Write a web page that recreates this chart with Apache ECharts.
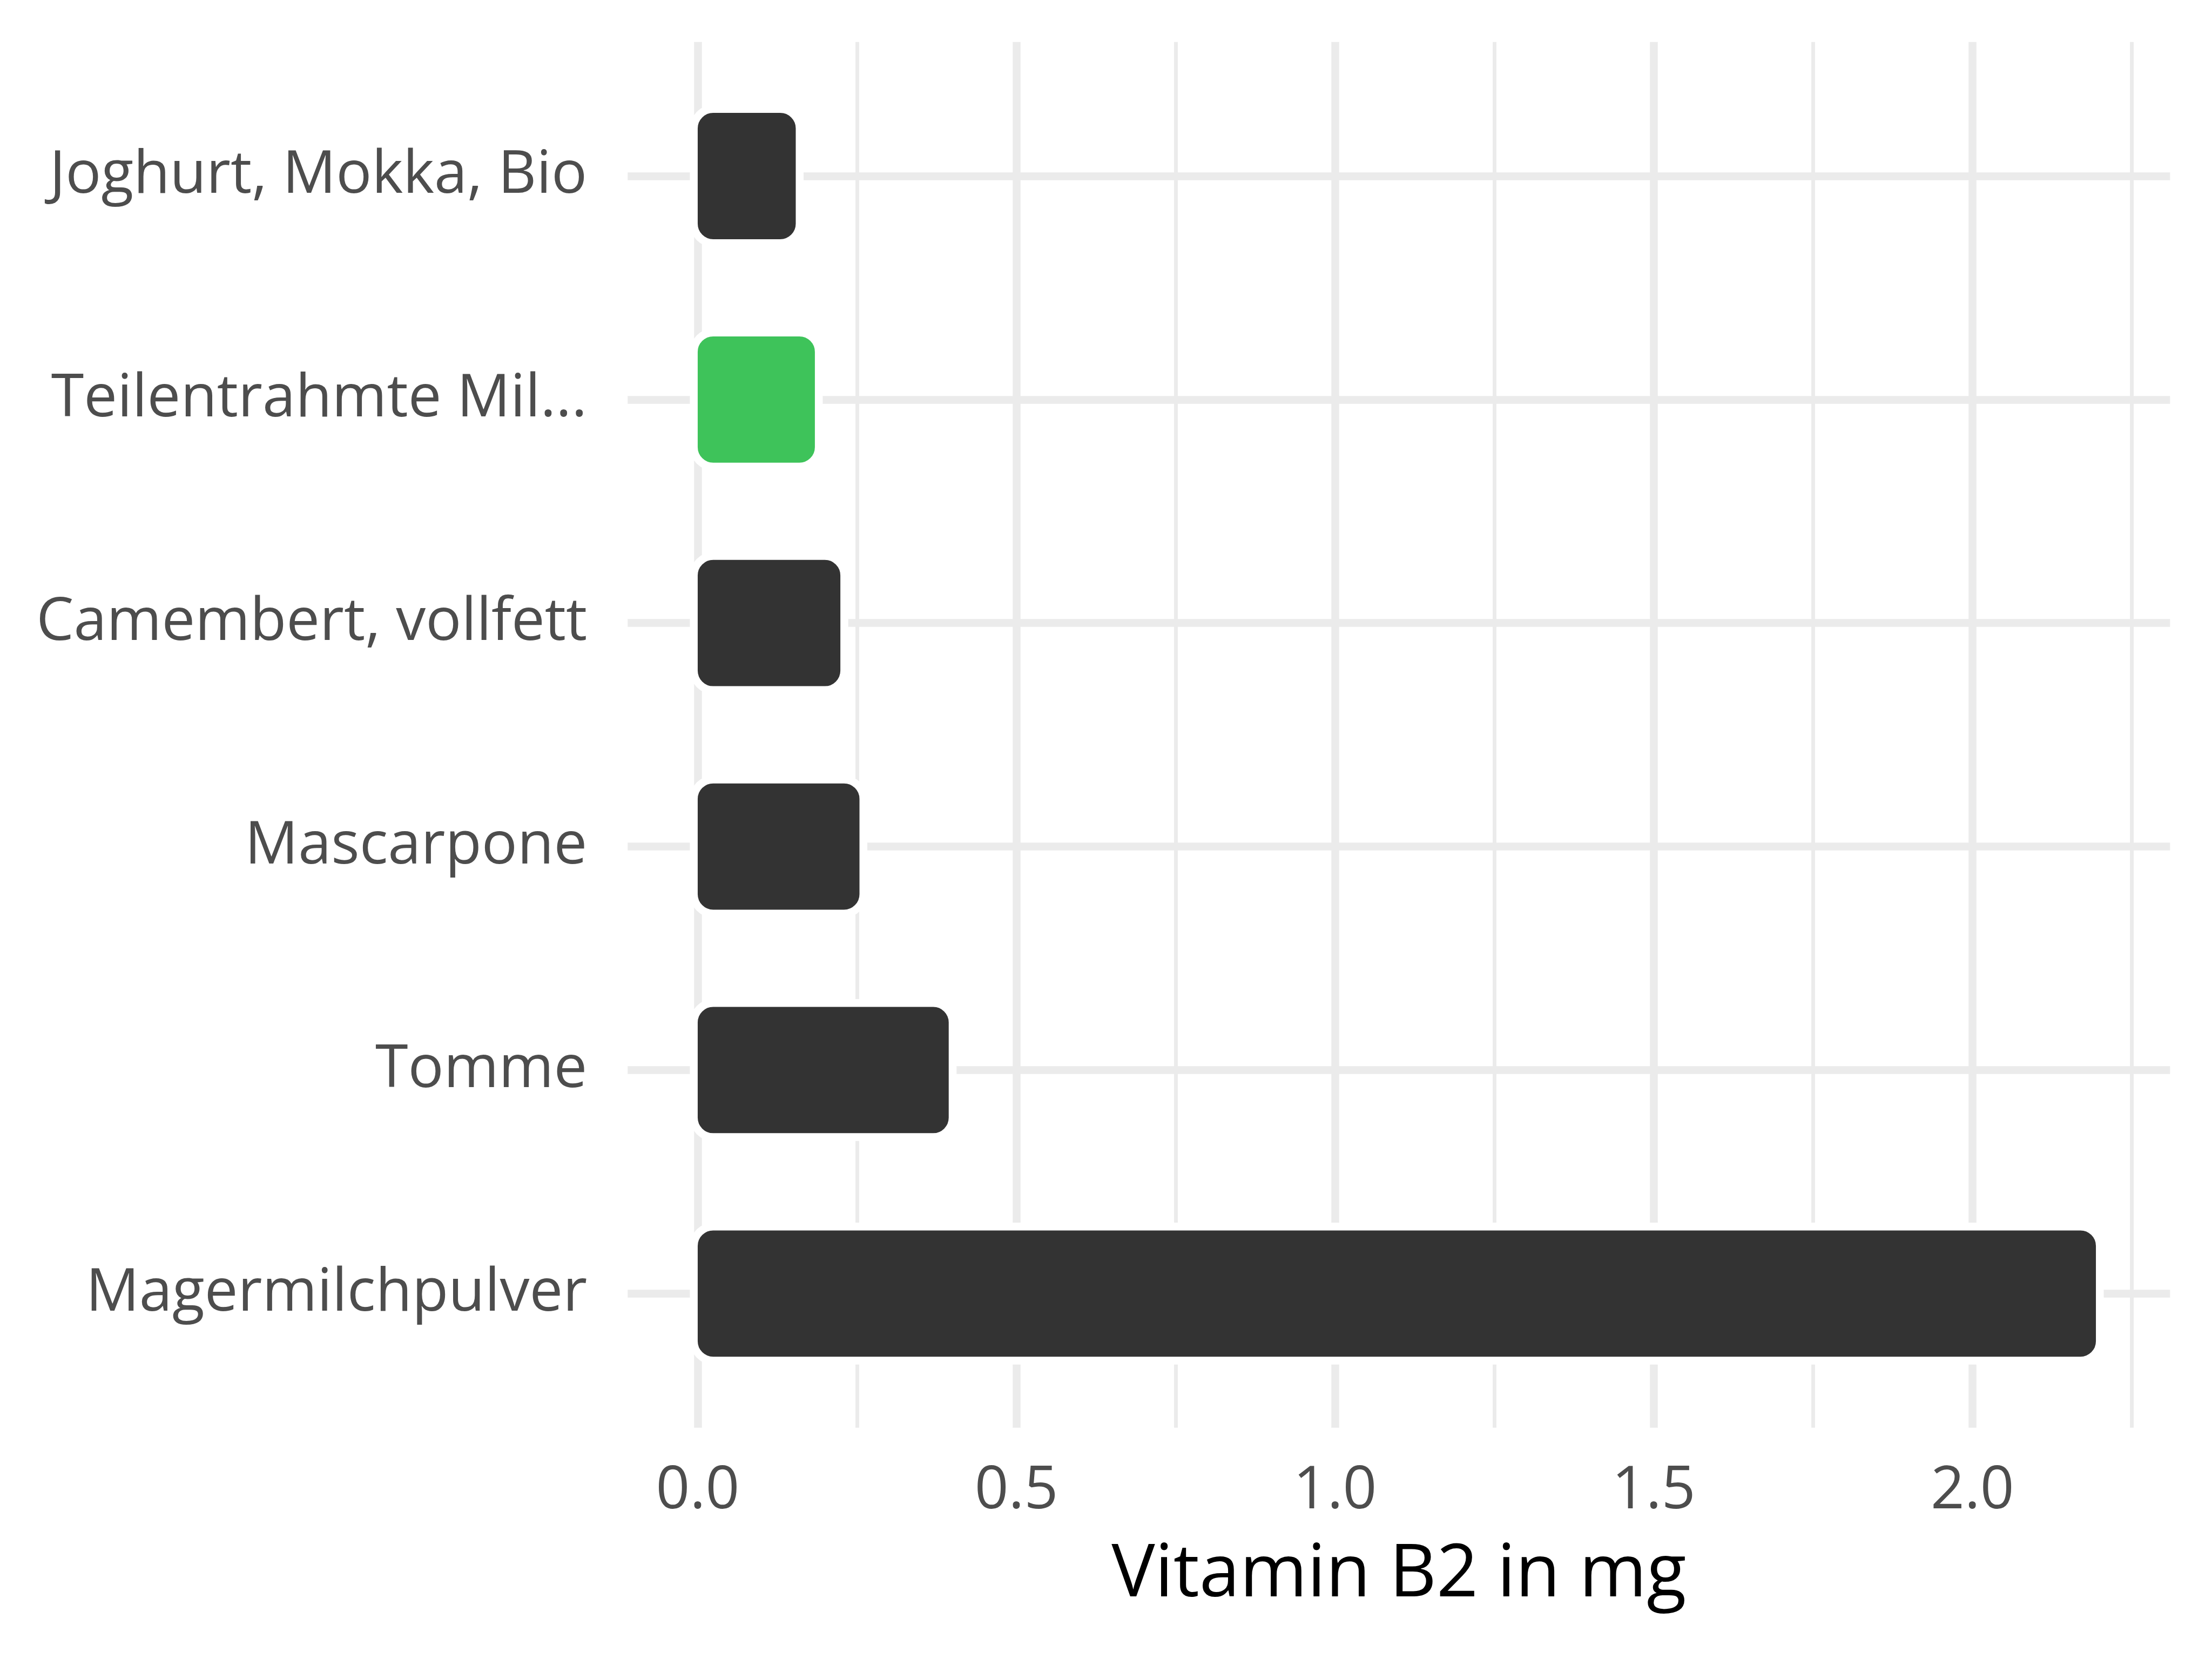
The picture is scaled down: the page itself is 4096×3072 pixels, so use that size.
<!DOCTYPE html>
<html>
<head>
<meta charset="utf-8">
<script src="https://cdn.jsdelivr.net/npm/echarts@6/dist/echarts.min.js"></script>
<style>
html,body{margin:0;padding:0;background:#fff;}
#chart{width:4096px;height:3072px;}
</style>
</head>
<body>
<div id="chart"></div>
<script>
// ---- data ----
const categories = ['Joghurt, Mokka, Bio', 'Teilentrahmte Mil...', 'Camembert, vollfett', 'Mascarpone', 'Tomme', 'Magermilchpulver'];
const values = [0.16, 0.19, 0.23, 0.26, 0.40, 2.20];
const highlighted = 'Teilentrahmte Mil...';
const axisTitle = 'Vitamin B2 in mg';
const xTickStep = 0.5;

// ---- layout (reference px * S) ----
const S = 4096 / 4800;
const FONT = '"Open Sans", "Noto Sans", sans-serif';
const x0 = 1514 * S;            // pixel of value 0
const unit = 1383 * S;          // px per 1.0
const catTop = 382 * S;         // first category centre
const band = 485 * S;           // category spacing
const panelLeft = 1362 * S, panelRight = 4709 * S;
const panelTop = catTop - 0.6 * band, panelBottom = catTop + 5.6 * band;
const gridLW = 17 * S, minorLW = 8 * S, barLW = 17 * S;
const grey = '#EBEBEB';

const chart = echarts.init(document.getElementById('chart'), null, {renderer: 'canvas'});

const option = {
  backgroundColor: '#ffffff',
  animation: false,
  title: {
    text: axisTitle,
    left: (panelLeft + panelRight) / 2,
    top: 2850,
    textAlign: 'center',
    padding: 0,
    textStyle: {color: '#000000', fontSize: 135, fontFamily: FONT, fontWeight: 'normal'}
  },
  grid: [
    // 0: vertical gridlines + x labels
    {left: x0, width: 2.5 * unit, top: panelTop, height: panelBottom - panelTop, containLabel: false, outerBoundsMode: 'none'},
    // 1: bars + category labels
    {left: x0, width: 2.5 * unit, top: catTop - band / 2, height: 6 * band, containLabel: false, outerBoundsMode: 'none'},
    // 2: horizontal gridlines
    {left: panelLeft, width: panelRight - panelLeft, top: catTop, height: 5 * band, containLabel: false, outerBoundsMode: 'none'}
  ],
  xAxis: [
    {
      gridIndex: 0, type: 'value', min: 0, max: 2.5, interval: xTickStep,
      axisLine: {show: false}, axisTick: {show: false},
      minorTick: {show: false, splitNumber: 2},
      splitLine: {show: true, lineStyle: {color: grey, width: gridLW}},
      minorSplitLine: {show: true, lineStyle: {color: grey, width: minorLW}},
      axisLabel: {
        show: true, margin: 63, color: '#4D4D4D', fontSize: 110, fontFamily: FONT,
        formatter: v => v.toFixed(1)
      }
    },
    {gridIndex: 1, type: 'value', min: 0, max: 2.5, show: false},
    {gridIndex: 2, type: 'value', min: 0, max: 1, show: false}
  ],
  yAxis: [
    {gridIndex: 0, type: 'value', min: 0, max: 1, show: false},
    {
      gridIndex: 1, type: 'category', data: categories, inverse: true,
      axisLine: {show: false}, axisTick: {show: false}, splitLine: {show: false},
      axisLabel: {show: true, margin: x0 - 1274 * S, color: '#4D4D4D', fontSize: 110, fontFamily: FONT, align: 'right', padding: [16, 0, 0, 0]}
    },
    {
      gridIndex: 2, type: 'value', min: 0, max: 5, interval: 1, inverse: true,
      axisLine: {show: false}, axisTick: {show: false}, axisLabel: {show: false},
      splitLine: {show: true, lineStyle: {color: grey, width: gridLW}}
    }
  ],
  series: [{
    type: 'custom',
    xAxisIndex: 1, yAxisIndex: 1,
    encode: {x: 0, y: 1},
    data: categories.map((c, i) => [values[i], i]),
    renderItem: function (params, api) {
      const v = api.value(0), c = api.value(1);
      const p0 = api.coord([0, c]);
      const p1 = api.coord([v, c]);
      const h = api.size([0, 1])[1] * 0.6;
      const isHi = categories[params.dataIndex] === highlighted;
      return {
        type: 'rect',
        shape: {x: p0[0] - barLW / 2, y: p0[1] - h / 2, width: p1[0] - p0[0] + barLW / 2, height: h, r: 36},
        style: {fill: isHi ? '#3EC35A' : '#333333', stroke: '#ffffff', lineWidth: barLW}
      };
    }
  }]
};
chart.setOption(option);
</script>
</body>
</html>
